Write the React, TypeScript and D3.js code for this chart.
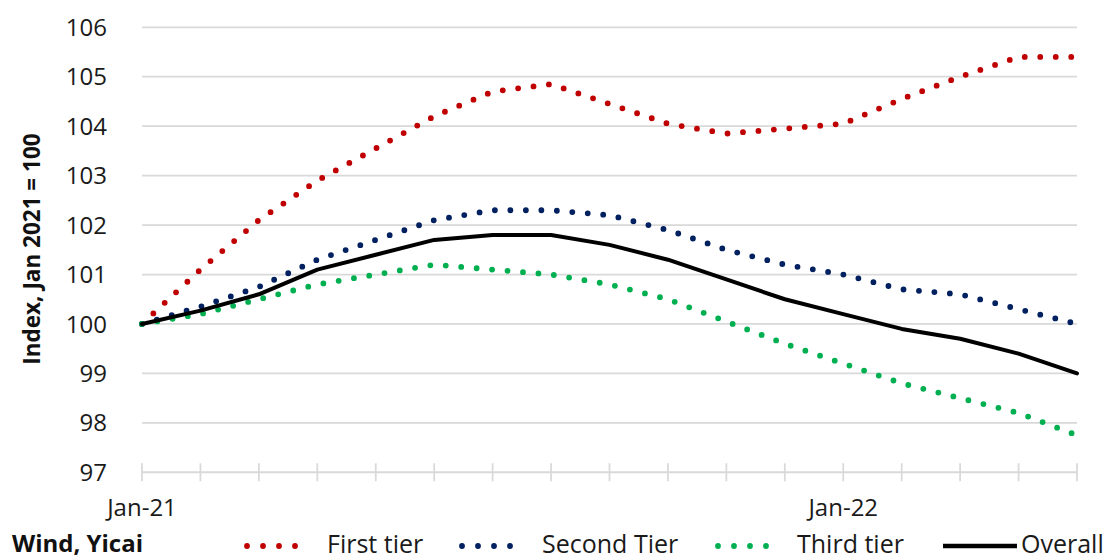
import React from "react";
import * as d3 from "d3";

// Monthly house price index by city tier, Jan 2021 = 100
const months = [
  "Jan-21", "Feb-21", "Mar-21", "Apr-21", "May-21", "Jun-21", "Jul-21", "Aug-21", "Sep-21",
  "Oct-21", "Nov-21", "Dec-21", "Jan-22", "Feb-22", "Mar-22", "Apr-22", "May-22",
];
const firstTier = [100, 101.1, 102.1, 102.9, 103.55, 104.2, 104.7, 104.85, 104.45, 104.05, 103.85, 103.95, 104.05, 104.55, 105.0, 105.4, 105.4];
const secondTier = [100, 100.35, 100.75, 101.3, 101.7, 102.1, 102.3, 102.3, 102.2, 101.9, 101.5, 101.2, 101.0, 100.7, 100.6, 100.3, 100.0];
const thirdTier = [100, 100.2, 100.5, 100.8, 101.0, 101.2, 101.1, 101.0, 100.8, 100.5, 100.05, 99.6, 99.2, 98.8, 98.5, 98.2, 97.75];
const overall = [100, 100.27, 100.6, 101.1, 101.4, 101.7, 101.8, 101.8, 101.6, 101.3, 100.9, 100.5, 100.2, 99.9, 99.7, 99.4, 99.0];
const yTicks = [97, 98, 99, 100, 101, 102, 103, 104, 105, 106];
const labelledMonths = ["Jan-21", "Jan-22"];

const seriesList = [
  { name: "First tier", values: firstTier, color: "#C00000", dotted: true },
  { name: "Second Tier", values: secondTier, color: "#002060", dotted: true },
  { name: "Third tier", values: thirdTier, color: "#00B050", dotted: true },
  { name: "Overall", values: overall, color: "#000000", dotted: false },
];

const W = 1112;
const H = 560;
const FONT = "'Open Sans', 'DejaVu Sans', sans-serif";
const GRID = "#D9D9D9";

export default function App() {
  const x = d3.scalePoint<string>().domain(months).range([142, 1077]).padding(0);
  const y = d3.scaleLinear().domain([97, 106]).range([472.3, 27.3]);

  const line = d3
    .line<number>()
    .x((_, i) => x(months[i]) as number)
    .y((d) => y(d));

  const legendItems = [
    { start: 247, end: 311, textX: 327 },
    { start: 462, end: 526, textX: 542 },
    { start: 718, end: 782, textX: 797 },
    { start: 943, end: 1017, textX: 1021 },
  ];

  return (
    <svg
      width={W}
      height={H}
      style={{ position: "absolute", left: 0, top: 0, background: "#fff" }}
      fontFamily={FONT}
    >
      {/* horizontal gridlines */}
      {yTicks
        .filter((t) => t !== 97)
        .map((t) => (
          <line key={t} x1={142} x2={1077} y1={y(t)} y2={y(t)} stroke={GRID} strokeWidth={1.75} />
        ))}

      {/* x axis with crossing tick marks */}
      <line x1={142} x2={1077} y1={y(97)} y2={y(97)} stroke={GRID} strokeWidth={2} />
      {months.map((m) => (
        <line
          key={m}
          x1={x(m)}
          x2={x(m)}
          y1={y(97) - 9}
          y2={y(97) + 9}
          stroke={GRID}
          strokeWidth={1.75}
        />
      ))}

      {/* y tick labels */}
      {yTicks.map((t) => (
        <text key={t} x={107} y={y(t)} dy="0.36em" textAnchor="end" fontSize={24} fill="#1a1a1a">
          {t}
        </text>
      ))}

      {/* x tick labels */}
      {labelledMonths.map((m) => (
        <text key={m} x={x(m)} y={516} textAnchor="middle" fontSize={24} fill="#1a1a1a">
          {m}
        </text>
      ))}

      {/* y axis title */}
      <text
        transform="translate(40,249) rotate(-90)"
        textAnchor="middle"
        fontSize={22.5}
        fontWeight={700}
        fill="#111"
      >
        Index, Jan 2021 = 100
      </text>

      {/* series */}
      {seriesList.map((s) => (
        <path
          key={s.name}
          d={line(s.values) || ""}
          fill="none"
          stroke={s.color}
          strokeWidth={s.dotted ? 5.8 : 4}
          strokeLinecap="round"
          strokeLinejoin="round"
          strokeDasharray={s.dotted ? "0 15.5" : undefined}
        />
      ))}

      {/* legend */}
      {seriesList.map((s, i) => {
        const it = legendItems[i];
        return (
          <g key={s.name}>
            <line
              x1={it.start}
              x2={it.end}
              y1={546}
              y2={546}
              stroke={s.color}
              strokeWidth={s.dotted ? 5.8 : 4.5}
              strokeLinecap={s.dotted ? "round" : "butt"}
              strokeDasharray={s.dotted ? "0 16" : undefined}
            />
            <text x={it.textX} y={553} fontSize={25} fill="#1a1a1a">
              {s.name}
            </text>
          </g>
        );
      })}

      {/* source note */}
      <text x={12} y={552} fontSize={24} fontWeight={700} fill="#111">
        Wind, Yicai
      </text>
    </svg>
  );
}
